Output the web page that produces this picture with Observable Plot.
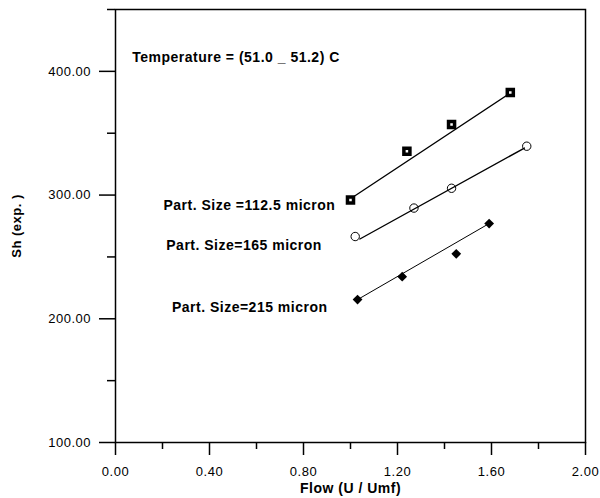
<!DOCTYPE html>
<html>
<head>
<meta charset="utf-8">
<script src="https://cdn.jsdelivr.net/npm/d3@7"></script>
<script src="https://cdn.jsdelivr.net/npm/@observablehq/plot@0.6"></script>
<style>
  html, body { margin: 0; padding: 0; background: white; overflow: hidden; }
  #chart svg { display: block; }
</style>
</head>
<body>
<div id="chart"></div>
<script>
// Series: Part. Size = 112.5 micron (squares)
const flowSq = [1.00, 1.24, 1.43, 1.68];
const shSq = [296, 335.5, 357, 383];
// Series: Part. Size = 165 micron (open circles)
const flowCi = [1.02, 1.27, 1.43, 1.75];
const shCi = [266.5, 289.5, 305.5, 339.5];
// Series: Part. Size = 215 micron (diamonds)
const flowDi = [1.03, 1.22, 1.45, 1.59];
const shDi = [215.5, 234, 252.5, 277];

// Trend lines (endpoints)
const fitSqX = [1.00, 1.68], fitSqY = [297, 382.5];
const fitCiX = [1.04, 1.74], fitCiY = [264.5, 338];
const fitDiX = [1.03, 1.59], fitDiY = [215.5, 277];

// Annotations
const notes = ["Temperature = (51.0 _ 51.2) C", "Part. Size =112.5 micron", "Part. Size=165 micron", "Part. Size=215 micron"];
const noteX = [0.071, 0.204, 0.216, 0.24];
const noteY = [411, 291.5, 259, 209];

// Ticks
const xMajor = [0, 0.4, 0.8, 1.2, 1.6, 2.0];
const xMinor = [0.2, 0.6, 1.0, 1.4, 1.8];
const yMajor = [100, 200, 300, 400];
const yMinor = [150, 250, 350, 450];

const xLabel = "Flow (U / Umf)";
const yLabel = "Sh (exp. )";

const zip = (xs, ys) => xs.map((x, i) => ({x, y: ys[i]}));
const sq = zip(flowSq, shSq), ci = zip(flowCi, shCi), di = zip(flowDi, shDi);
const noteData = notes.map((t, i) => ({t, x: noteX[i], y: noteY[i]}));

const W = 600, H = 498, mL = 115, mR = 15, mT = 9, mB = 56;
const frameW = W - mL - mR, frameH = H - mT - mB;

const chart = Plot.plot({
  width: W,
  height: H,
  marginLeft: mL,
  marginRight: mR,
  marginTop: mT,
  marginBottom: mB,
  style: {fontFamily: "'Liberation Sans', Arial, sans-serif", fontSize: "13px", letterSpacing: "0.5px", color: "black", background: "white"},
  x: {domain: [0, 2], axis: null},
  y: {domain: [100, 450], axis: null},
  marks: [
    // tick marks (drawn as short rules outside the frame)
    Plot.ruleX(xMajor, {x: d => d, insetTop: frameH, insetBottom: -13, stroke: "black", strokeWidth: 1.5}),
    Plot.ruleX(xMinor, {x: d => d, insetTop: frameH, insetBottom: -7, stroke: "black", strokeWidth: 1.5}),
    Plot.ruleY(yMajor, {y: d => d, insetLeft: -16, insetRight: frameW, stroke: "black", strokeWidth: 1.5}),
    Plot.ruleY(yMinor, {y: d => d, insetLeft: -8, insetRight: frameW, stroke: "black", strokeWidth: 1.5}),
    // tick labels
    Plot.axisX(xMajor, {tickSize: 0, tickPadding: 24, tickFormat: d => d.toFixed(2), label: null}),
    Plot.axisY(yMajor, {tickSize: 0, tickPadding: 24.5, tickFormat: d => d.toFixed(2), label: null}),
    Plot.frame({stroke: "black", strokeWidth: 1.5}),
    Plot.text([xLabel], {frameAnchor: "bottom", lineAnchor: "middle", dy: 46, fontWeight: "bold", fontSize: 14}),
    Plot.text([yLabel], {frameAnchor: "left", textAnchor: "middle", lineAnchor: "middle", dx: -99, rotate: -90, fontWeight: "bold", fontSize: 13}),
    Plot.text(noteData, {x: "x", y: "y", text: "t", textAnchor: "start", fontWeight: "bold", fontSize: 14}),
    Plot.line(zip(fitSqX, fitSqY), {x: "x", y: "y", stroke: "black", strokeWidth: 1.4}),
    Plot.line(zip(fitCiX, fitCiY), {x: "x", y: "y", stroke: "black", strokeWidth: 1.4}),
    Plot.line(zip(fitDiX, fitDiY), {x: "x", y: "y", stroke: "black", strokeWidth: 1}),
    Plot.dot(sq, {x: "x", y: "y", symbol: "square", r: 3.4, fill: "white", stroke: "black", strokeWidth: 3.5}),
    Plot.dot(ci, {x: "x", y: "y", symbol: "circle", r: 4.2, fill: "none", stroke: "black", strokeWidth: 1}),
    Plot.dot(di, {x: "x", y: "y", symbol: "diamond2", r: 4.4, fill: "black", stroke: "none"})
  ]
});
document.getElementById("chart").appendChild(chart);
</script>
</body>
</html>
